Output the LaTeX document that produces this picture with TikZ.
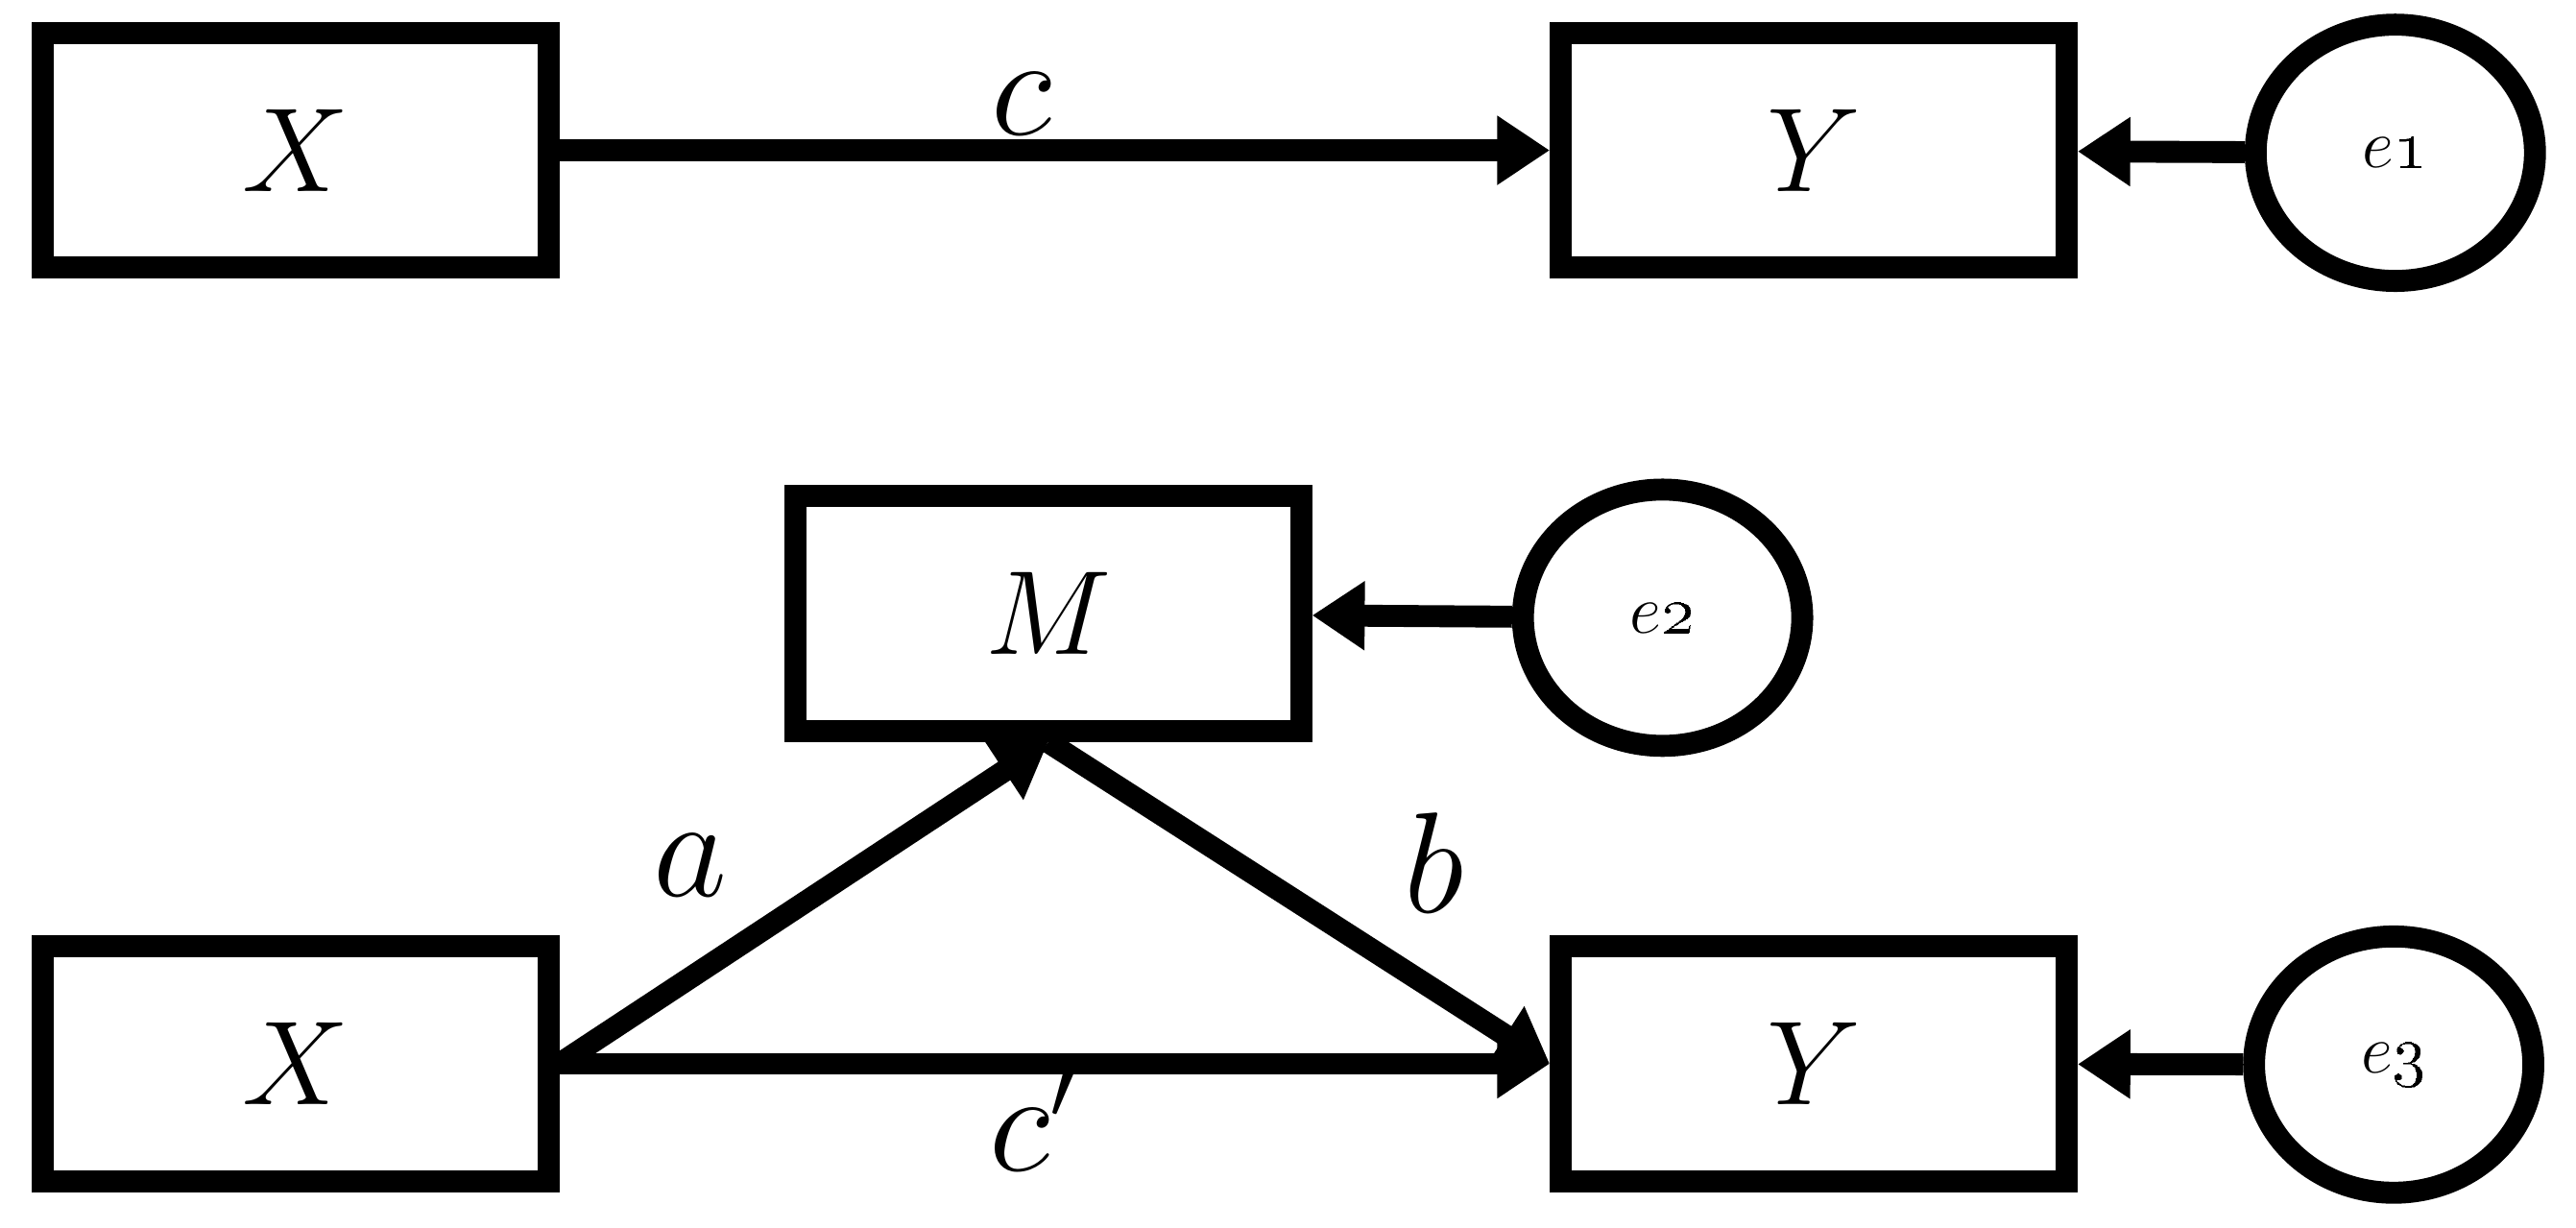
\documentclass[tikz,border=0pt]{standalone}
\usepackage{tikz}
\usetikzlibrary{arrows.meta,positioning,shapes.geometric}

\begin{document}
\begin{tikzpicture}[
    var/.style={draw, line width=3.8pt, minimum width=3.08cm, minimum height=1.43cm, inner sep=0pt, font=\fontsize{22}{26}\selectfont},
    err/.style={draw, ellipse, line width=3.8pt, minimum width=1.70cm, minimum height=1.56cm, inner sep=0pt, font=\fontsize{13}{15}\selectfont},
    lbl/.style={font=\fontsize{23}{27}\selectfont, inner sep=1pt},
    arrow/.style={-{Triangle[length=0.32cm, width=0.40cm]}, line width=3.8pt}
]
    \useasboundingbox (0,0) rectangle (15.68,7.47);

    % total effect
    \node[var] (X1) at (1.80, 6.555) {$X$};
    \node[var] (Y1) at (11.04, 6.555) {$Y$};
    \node[err] (e1) at (14.58, 6.54) {$e$\oldstylenums{1}};
    \node[lbl] (lc) at (6.22, 6.84) {$c$};

    \draw[arrow] (X1) -- (Y1);
    \draw[arrow] (e1) -- (Y1);

    % mediation
    \node[var] (M) at (6.38, 3.735) {$M$};
    \node[err] (e2) at (10.12, 3.71) {$e$\oldstylenums{2}};
    \node[var] (X2) at (1.80, 0.995) {$X$};
    \node[var] (Y2) at (11.04, 0.995) {$Y$};
    \node[err] (e3) at (14.57, 0.99) {$e$\oldstylenums{3}};
    \node[lbl] (la) at (4.20, 2.20) {$a$};
    \node[lbl] (lb) at (8.73, 2.22) {$b$};
    \node[lbl] (lcp) at (6.30, 0.67) {$c'$};

    \draw[arrow] (e2) -- (M);
    \draw[arrow] (X2.east) -- (M.south);
    \draw[arrow] (M.south) -- (Y2.west);
    \draw[arrow] (X2) -- (Y2);
    \draw[arrow] (e3) -- (Y2);
\end{tikzpicture}
\end{document}
